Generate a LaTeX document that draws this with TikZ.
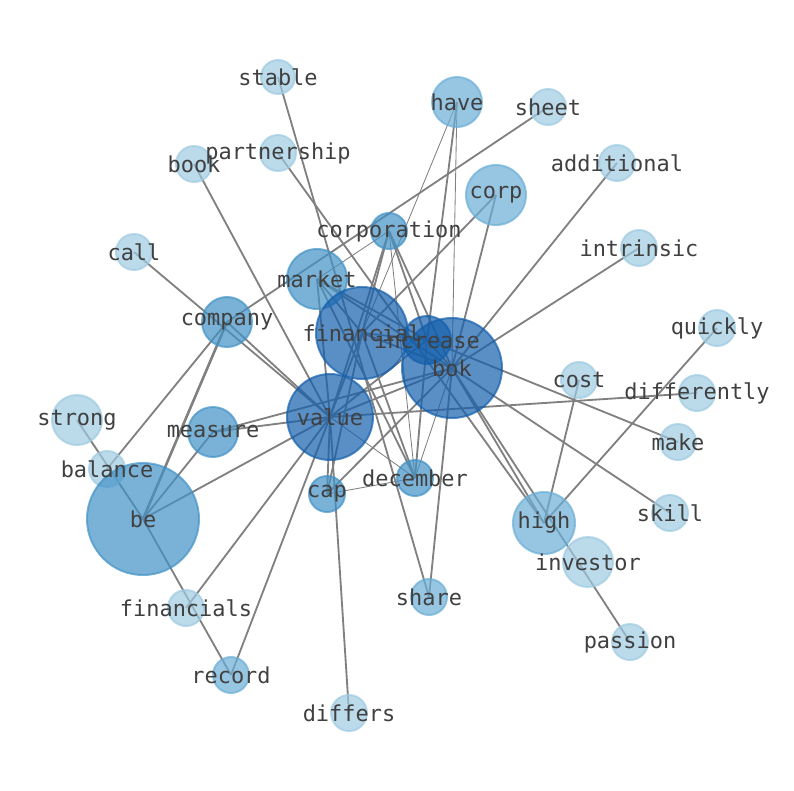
\documentclass[tikz,border=0pt]{standalone}
\usepackage{fontspec}
\newfontfamily\wordfont{DejaVu Sans Mono}
\definecolor{cA}{RGB}{158,202,225}
\definecolor{cB}{RGB}{107,174,214}
\definecolor{cC}{RGB}{66,146,198}
\definecolor{cD}{RGB}{20,95,172}
\pgfdeclarelayer{edges}
\pgfsetlayers{edges,main}

\begin{document}
\begin{tikzpicture}[x=0.025cm,y=-0.025cm]
        \tikzstyle{word}=[circle,inner sep=0pt,line width=1.4pt,fill opacity=0.7,draw opacity=0.7]
        \tikzstyle{tag}=[font=\wordfont\fontsize{15.6}{18}\selectfont,text=black!75,inner sep=0pt]
        \tikzstyle{link}=[draw=gray,line width=1.3pt]
        \tikzstyle{weak}=[draw=gray,line width=0.6pt]
        \useasboundingbox (0,0) rectangle (794,790);
        \foreach \n/\x/\y/\r/\c in {stable/278/77/17/cA, have/457/102/25/cB, sheet/548/107/18/cA,
            partnership/278/153/18/cA, book/194/164/18/cA, additional/617/163/18/cA, corp/496/195/30/cB,
            corporation/389/231/18/cC, call/134/252/18/cA, intrinsic/639/248/18/cA, market/317/279/30/cC,
            company/227/322/25/cC, financial/362/333/46/cD, increase/427/340/24/cD, bok/452/368/50/cD,
            quickly/717/328/18/cA, cost/579/380/18/cA, differently/697/393/18/cA, strong/77/420/25/cA,
            measure/213/432/25/cC, value/330/417/43/cD, make/678/442/18/cA, balance/107/469/18/cA,
            december/415/478/18/cC, cap/327/494/18/cC, be/143/519/56/cC, high/544/523/31/cB,
            skill/670/513/18/cA, investor/588/562/25/cA, share/429/597/18/cB, financials/186/608/18/cA,
            passion/630/642/18/cA, record/231/675/18/cB, differs/349/713/18/cA}
            \node[word,fill=\c,draw=\c,minimum size=\r*0.05cm] (\n) at (\x,\y) {};
        \foreach \n in {stable,have,sheet,partnership,book,additional,corp,corporation,call,intrinsic,
            market,company,financial,increase,bok,quickly,cost,differently,strong,measure,value,make,
            balance,december,cap,be,high,skill,investor,share,financials,passion,record,differs}
            \node[tag] (t-\n) at (\n) {\n};
        \begin{pgfonlayer}{edges}
        \foreach \a/\b in {stable/share, book/value, call/value, sheet/company, have/increase,
            corp/financial, corp/bok, additional/bok, intrinsic/bok, quickly/high, cost/high,
            differently/value, make/increase, skill/bok, bok/passion, bok/high, bok/share,
            partnership/high, strong/be, be/record, balance/company, be/company, be/measure,
            be/value, financials/value, record/value, differs/value, company/value, measure/value,
            measure/bok, cap/value, corporation/financial, corporation/value, corporation/increase,
            corporation/bok, market/financial, market/increase, market/value, market/bok,
            market/december, financial/increase, financial/bok, financial/value, financial/cap,
            financial/december, increase/bok, increase/value, increase/december, bok/value, bok/cap}
            \draw[link] (\a.center) -- (\b.center);
        \draw[link,line width=1.8pt] (be.center) -- (company.center);
        \foreach \a/\b in {have/financial, have/bok, corporation/market, corporation/december,
            bok/december, cap/december, value/december}
            \draw[weak] (\a.center) -- (\b.center);
        \end{pgfonlayer}
\end{tikzpicture}
\end{document}
